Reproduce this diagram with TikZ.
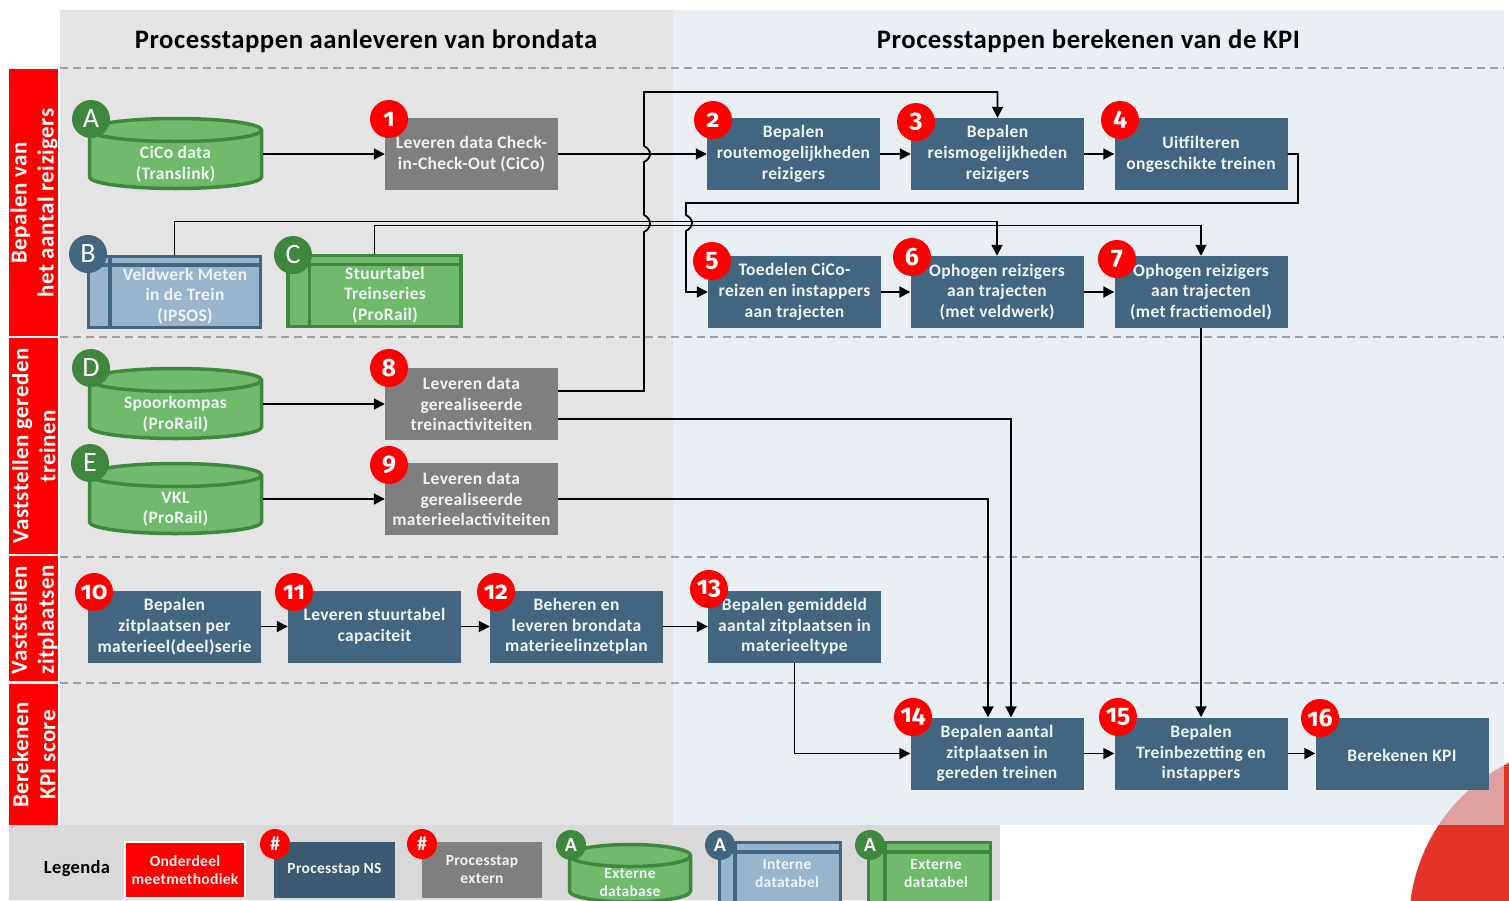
\documentclass[tikz,border=0pt]{standalone}
\usepackage{fontspec}
\setmainfont[LetterSpace=2.0]{Carlito}
\newfontfamily\numfont[Numbers=OldStyle]{Fira Sans}
\usetikzlibrary{arrows.meta,calc}
\definecolor{nsblue}{HTML}{426580}
\definecolor{nsdark}{HTML}{3B5A70}
\definecolor{extgray}{HTML}{7F7F7F}
\definecolor{leftbg}{HTML}{E4E4E4}
\definecolor{rightbg}{HTML}{E9EEF3}
\definecolor{legbg}{HTML}{D9D9D9}
\definecolor{extgreen}{HTML}{70BA6C}
\definecolor{extborder}{HTML}{3F873F}
\definecolor{intblue}{HTML}{99B5CB}
\definecolor{softwhite}{HTML}{F0F3F6}
\definecolor{dashgray}{HTML}{A0A0A0}
\definecolor{nsred}{HTML}{E53528}
\definecolor{nspink}{HTML}{DFA0A0}
\tikzset{
  x=1pt,y=-1pt,
  boxtext/.style={text=softwhite,font=\fontsize{17.5}{20.7}\selectfont\bfseries,align=center,inner sep=0pt,execute at begin node={\rule{0pt}{16pt}}},
  legtext/.style={text=softwhite,font=\fontsize{15.5}{18}\selectfont\bfseries,align=center,inner sep=0pt},
  procns/.style={fill=nsblue,draw=none,inner sep=0pt,minimum width=173pt,minimum height=72pt,boxtext},
  procext/.style={fill=extgray,draw=none,inner sep=0pt,minimum width=173pt,minimum height=72pt,boxtext},
  anchorbox/.style={draw=none,inner sep=0pt,minimum width=175pt,minimum height=73pt},
  badge/.style={circle,fill=red,text=white,minimum size=38pt,inner sep=0pt,font=\fontsize{25}{25}\selectfont\numfont\bfseries},
  gbadge/.style={circle,fill=extborder,text=white,minimum size=38pt,inner sep=0pt,font=\fontsize{28}{28}\selectfont},
  bbadge/.style={gbadge,fill=nsblue},
  lbadge/.style={circle,fill=#1,text=white,minimum size=30pt,inner sep=0pt,font=\fontsize{20}{20}\selectfont\bfseries},
  band/.style={fill=red,draw=none,text=white,font=\fontsize{23}{27}\selectfont\bfseries,align=center,inner sep=0pt},
  sep/.style={dashgray,line width=1.5pt,dash pattern=on 8pt off 5pt},
  conn/.style={black,line width=1.8pt,-{Triangle[length=11pt,width=11pt]}},
  head/.style={text=black,font=\fontsize{26.7}{30}\selectfont\bfseries,inner sep=0pt},
}
% y1, x0, x1, y0, ry, border width
\newcommand\dbshape[6]{%
  \pgfmathsetmacro\rxv{(#3-#2)/2}%
  \fill[extgreen,draw=extborder,line width=#6pt]
    (#2,#4+#5) arc[start angle=180,end angle=0,x radius=\rxv pt,y radius=#5pt]
    -- (#3,#1-#5) arc[start angle=0,end angle=-180,x radius=\rxv pt,y radius=#5pt] -- cycle;
  \draw[extborder,line width=#6pt]
    (#2,#4+#5) arc[start angle=180,end angle=360,x radius=\rxv pt,y radius=#5pt];
}
% x0,x1,y0,y1,xv,yh,fill,border,width
\newcommand\tblshape[9]{%
  \fill[#7,draw=#8,line width=#9pt] (#1,#3) rectangle (#2,#4);
  \draw[#8,line width=#9pt] (#5,#3) -- (#5,#4) (#1,#6) -- (#2,#6);
}
\begin{document}
\begin{tikzpicture}
\clip (0,0) rectangle (1509,900);
\useasboundingbox (0,0) rectangle (1509,900);
\fill[white] (0,0) rectangle (1509,900);
% corner disc
\fill[nsred] (1589,924) circle[radius=180pt];
% panels
\fill[leftbg] (60,10) rectangle (673,825);
\fill[rightbg] (673,10) rectangle (1504,825);
\begin{scope}
  \clip (1589,924) circle[radius=180pt];
  \fill[nspink] (1400,700) rectangle (1504,825);
\end{scope}
% headers
\node[head] (h1) at (366,41) {Processtappen aanleveren van brondata};
\node[head] (h2) at (1088.5,41) {Processtappen berekenen van de KPI};
% separators
\foreach \yy in {68,337,557,683} \draw[sep] (60,\yy) -- (1504,\yy);
% side bands
\fill[red] (9,69) rectangle (58,336);
\fill[red] (9,338) rectangle (58,554);
\fill[red] (9,556) rectangle (58,681);
\fill[red] (9,684) rectangle (58,825);
\node[band,rotate=90] (s1) at (34,203) {Bepalen van\\het aantal reizigers};
\node[band,rotate=90] (s2) at (34,446) {Vaststellen gereden\\treinen};
\node[band,rotate=90] (s3) at (34,620) {Vaststellen\\zitplaatsen};
\node[band,rotate=90] (s4) at (34,755) {Berekenen\\KPI score};
% data sources
\dbshape{188.5}{89.5}{261.5}{118.5}{11.5}{3.5}
\node[anchorbox] (A) at (175.5,154) {};
\node[boxtext] (At) at (175.5,164) {CiCo data\\(Translink)};
\tblshape{88.5}{260.5}{256.5}{327.5}{110}{265}{intblue}{nsblue}{3.5}
\node[anchorbox] (B) at (174.5,292) {};
\node[boxtext] (Bt) at (185,296) {Veldwerk Meten\\in de Trein\\(IPSOS)};
\tblshape{288}{461}{255.5}{326.5}{309.5}{264.5}{extgreen}{extborder}{3.5}
\node[anchorbox] (C) at (374.5,291) {};
\node[boxtext] (Ct) at (385,295) {Stuurtabel\\Treinseries\\(ProRail)};
\dbshape{438.5}{89.5}{261.5}{368.5}{11.5}{3.5}
\node[anchorbox] (D) at (175.5,404) {};
\node[boxtext] (Dt) at (175.5,414) {Spoorkompas\\(ProRail)};
\dbshape{533.5}{89.5}{261.5}{463.5}{11.5}{3.5}
\node[anchorbox] (E) at (175.5,499) {};
\node[boxtext] (Et) at (175.5,509) {VKL\\(ProRail)};
% process steps
\node[procext] (n1) at (471.5,154) {Leveren data Check-\\in-Check-Out (CiCo)};
\node[procns] (n2) at (793.5,154) {Bepalen\\routemogelijkheden\\reizigers};
\node[procns] (n3) at (997.5,154) {Bepalen\\reismogelijkheden\\reizigers};
\node[procns] (n4) at (1201,154) {Uitfilteren\\ongeschikte treinen};
\node[procns] (n5) at (794.5,292) {Toedelen CiCo-\\reizen en instappers\\aan trajecten};
\node[procns] (n6) at (997,292) {Ophogen reizigers\\aan trajecten\\(met veldwerk)};
\node[procns] (n7) at (1201,292) {Ophogen reizigers\\aan trajecten\\(met fractiemodel)};
\node[procext] (n8) at (471.5,404) {Leveren data\\gerealiseerde\\treinactiviteiten};
\node[procext] (n9) at (471.5,499) {Leveren data\\gerealiseerde\\materieelactiviteiten};
\node[procns] (n10) at (174.5,626.5) {Bepalen\\zitplaatsen per\\materieel(deel)serie};
\node[procns] (n11) at (374.5,626.5) {Leveren stuurtabel\\capaciteit};
\node[procns] (n12) at (576.5,626.5) {Beheren en\\leveren brondata\\materieelinzetplan};
\node[procns] (n13) at (794.5,626.5) {Bepalen gemiddeld\\aantal zitplaatsen in\\materieeltype};
\node[procns] (n14) at (997,753.5) {Bepalen aantal\\zitplaatsen in\\gereden treinen};
\node[procns] (n15) at (1201,753.5) {Bepalen\\Treinbezetting en\\instappers};
\node[procns] (n16) at (1402,753.5) {Berekenen KPI};
% way points
\coordinate (w8a) at (644,391);
\coordinate (w8top) at (644,92);
\coordinate (w4a) at (1298,154);
\coordinate (w4b) at (1298,203);
\coordinate (w4c) at (686,203);
\coordinate (wB) at (174.5,221.5);
\coordinate (wC) at (374.5,225.5);
% connectors
\draw[conn] (A.east) -- (n1.west);
\draw[conn] (n1.east) -- (n2.west);
\draw[conn] (n2.east) -- (n3.west);
\draw[conn] (n3.east) -- (n4.west);
\draw[conn] (n4.east) -- (w4a) -- (w4b) -- (w4c) -- (686,215)
  .. controls (694,219) and (694,227) .. (686,231) |- (n5.west);
\draw[conn] (n5.east) -- (n6.west);
\draw[conn] (n6.east) -- (n7.west);
\draw[conn] (D.east) -- (n8.west);
\draw[conn] (E.east) -- (n9.west);
\draw[conn] ($(n8.east)+(0,-13)$) -- (w8a) -- (644,232)
  .. controls (652,228) and (652,219) .. (644,215) -- (644,162)
  .. controls (652,158) and (652,150) .. (644,146) -- (w8top) -| (n3.north);
\draw[conn] (B.north) |- (wB) -| (n6.north);
\draw[conn] (C.north) |- (wC) -| (n7.north);
\draw[conn] ($(n8.east)+(0,15)$) -| ($(n14.north)+(14,0)$);
\draw[conn] (n9.east) -| ($(n14.north)+(-9,0)$);
\draw[conn] (n7.south) -- (n15.north);
\draw[conn] (n10.east) -- (n11.west);
\draw[conn] (n11.east) -- (n12.west);
\draw[conn] (n12.east) -- (n13.west);
\draw[conn] (n13.south) |- (n14.west);
\draw[conn] (n14.east) -- (n15.west);
\draw[conn] (n15.east) -- (n16.west);
% badges
\node[gbadge] (bA) at (91,119) {A};
\node[bbadge] (bB) at (88,254) {B};
\node[gbadge] (bC) at (293,255) {C};
\node[gbadge] (bD) at (91,368) {D};
\node[gbadge] (bE) at (90,463) {E};
\node[badge] (b1) at (389,119) {1};
\node[badge] (b2) at (713,120) {2};
\node[badge] (b3) at (916,122) {3};
\node[badge] (b4) at (1120,120) {4};
\node[badge] (b5) at (712,261) {5};
\node[badge] (b6) at (912,257) {6};
\node[badge] (b7) at (1117,259) {7};
\node[badge] (b8) at (389,368) {8};
\node[badge] (b9) at (389,465) {9};
\node[badge] (b10) at (94,592) {10};
\node[badge] (b11) at (294,592) {11};
\node[badge] (b12) at (496,592) {12};
\node[badge] (b13) at (709,589) {13};
\node[badge] (b14) at (913,717) {14};
\node[badge] (b15) at (1118,717) {15};
\node[badge] (b16) at (1320,718) {16};
% legend
\fill[legbg] (9,825) rectangle (1000,900);
\node[text=black,font=\fontsize{18.5}{20}\selectfont\bfseries,inner sep=0pt] (lt) at (77,869) {Legenda};
\node[fill=red,draw=white,line width=2.5pt,minimum width=120pt,minimum height=56pt,inner sep=0pt,legtext] (l1) at (185,870) {Onderdeel\\meetmethodiek};
\node[fill=nsdark,minimum width=121pt,minimum height=56pt,inner sep=0pt,legtext] (l2) at (334.5,870) {Processtap NS};
\node[fill=extgray,minimum width=120pt,minimum height=56pt,inner sep=0pt,legtext] (l3) at (482,870) {Processtap\\extern};
\dbshape{902}{569.5}{690.5}{844.5}{11}{3.5}
\node[legtext] (l4) at (630,883) {Externe\\database};
\tblshape{719.5}{840.5}{842.5}{905}{735}{852}{intblue}{nsblue}{3.5}
\node[legtext] (l5) at (787,874) {Interne\\datatabel};
\tblshape{868.5}{990.5}{842.5}{905}{885}{852}{extgreen}{extborder}{3.5}
\node[legtext] (l6) at (936,874) {Externe\\datatabel};
\node[lbadge=red] (lb1) at (275,844) {\#};
\node[lbadge=red] (lb2) at (422,844) {\#};
\node[lbadge=extborder] (lb3) at (571,845) {A};
\node[lbadge=nsblue] (lb4) at (720,845) {A};
\node[lbadge=extborder] (lb5) at (870,845) {A};
\end{tikzpicture}
\end{document}
